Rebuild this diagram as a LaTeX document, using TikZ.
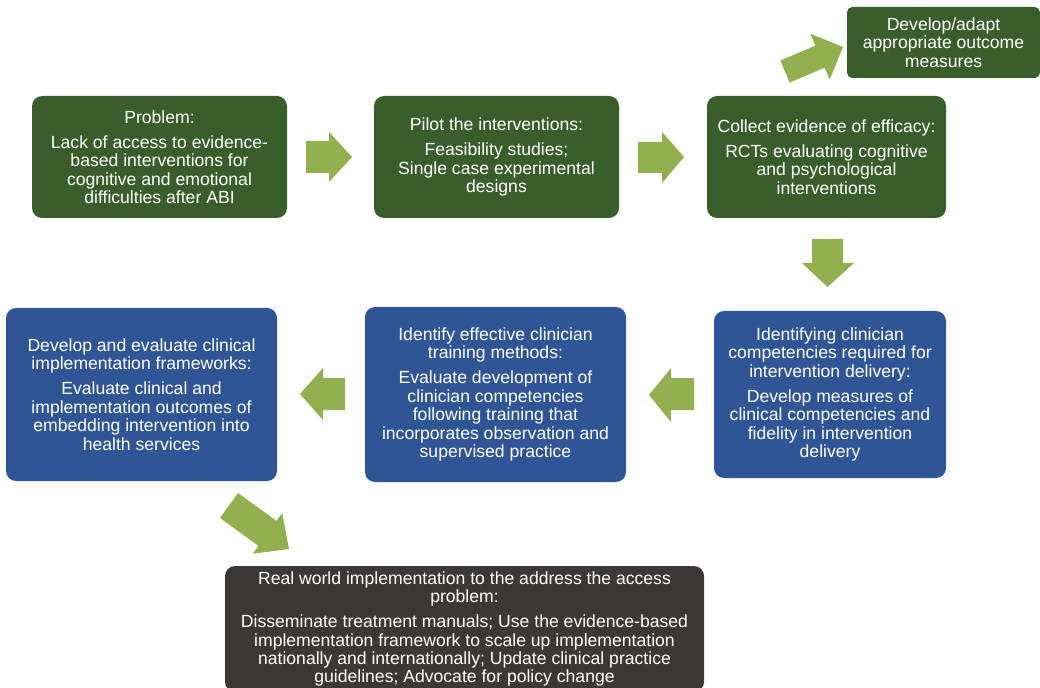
\documentclass[tikz,border=0pt]{standalone}
\usepackage{fontspec}
\setmainfont{Liberation Sans}
\definecolor{boxgreen}{RGB}{57,94,43}
\definecolor{boxblue}{RGB}{47,85,151}
\definecolor{boxgray}{RGB}{59,57,54}
\definecolor{arrgreen}{RGB}{146,176,80}
\begin{document}
\begin{tikzpicture}[x=0.75pt,y=-0.75pt,
  box/.style={rounded corners=7.5pt, text=white, align=center, inner sep=0pt,
    font=\fontsize{13.2}{13.8}\selectfont},
  gbox/.style={box, fill=boxgreen},
  bbox/.style={box, fill=boxblue},
  kbox/.style={box, fill=boxgray},
  blockarrow/.style={fill=arrgreen}]
\useasboundingbox (0,0) rectangle (1040,688);
% boxes
\node[gbox, minimum width=255*0.75pt, minimum height=122*0.75pt] (p1) at (159.5,157)
  {Problem:\\[5pt]Lack of access to evidence-\\based interventions for\\cognitive and emotional\\difficulties after ABI};
\node[gbox, minimum width=245*0.75pt, minimum height=122*0.75pt] (p2) at (496.5,157)
  {Pilot the interventions:\\[5pt]Feasibility studies;\\Single case experimental\\designs};
\node[gbox, minimum width=239*0.75pt, minimum height=122*0.75pt] (p3) at (826.5,157)
  {Collect evidence of efficacy:\\[5pt]RCTs evaluating cognitive\\and psychological\\interventions};
\node[gbox, rounded corners=4pt, minimum width=193*0.75pt, minimum height=71*0.75pt] (pt) at (943.5,42.5)
  {Develop/adapt\\appropriate outcome\\measures};
\node[bbox, minimum width=232*0.75pt, minimum height=167*0.75pt] (br) at (830,394.5)
  {Identifying clinician\\competencies required for\\intervention delivery:\\[5pt]Develop measures of\\clinical competencies and\\fidelity in intervention\\delivery};
\node[bbox, minimum width=261*0.75pt, minimum height=175*0.75pt] (bm) at (495.5,394.5)
  {Identify effective clinician\\training methods:\\[5pt]Evaluate development of\\clinician competencies\\following training that\\incorporates observation and\\supervised practice};
\node[bbox, minimum width=271*0.75pt, minimum height=173*0.75pt] (bl) at (141.5,394.5)
  {Develop and evaluate clinical\\implementation frameworks:\\[5pt]Evaluate clinical and\\implementation outcomes of\\embedding intervention into\\health services};
\node[kbox, minimum width=479*0.75pt, minimum height=126*0.75pt] (bb) at (464.5,629)
  {Real world implementation to the address the access\\problem:\\[5pt]Disseminate treatment manuals; Use the evidence-based\\implementation framework to scale up implementation\\nationally and internationally; Update clinical practice\\guidelines; Advocate for policy change};
% block arrows
\fill[blockarrow] (306,141) -- (329,141) -- (329,132) -- (352,157) -- (329,182) -- (329,173) -- (306,173) -- cycle;
\fill[blockarrow] (638,142) -- (662,142) -- (662,132) -- (684,157) -- (662,183) -- (662,173) -- (638,173) -- cycle;
\fill[blockarrow] (812,239) -- (843,239) -- (843,263) -- (854,263) -- (827.5,287) -- (802,263) -- (812,263) -- cycle;
\fill[blockarrow] (694,378) -- (671,378) -- (671,368) -- (649,395) -- (671,422) -- (671,410) -- (694,410) -- cycle;
\fill[blockarrow] (345,378) -- (323,378) -- (323,368) -- (300,394) -- (323,420) -- (323,410) -- (345,410) -- cycle;
\fill[blockarrow] (780.3,60.5) -- (815.3,45.7) -- (810.3,33.7) -- (843,47) -- (829.7,79.7) -- (824.7,67.7) -- (789.7,82.5) -- cycle;
\fill[blockarrow] (238,493) -- (276.5,520.9) -- (282.2,513.1) -- (289,549) -- (252.8,553.7) -- (258.5,545.9) -- (220,518) -- cycle;
\end{tikzpicture}
\end{document}
